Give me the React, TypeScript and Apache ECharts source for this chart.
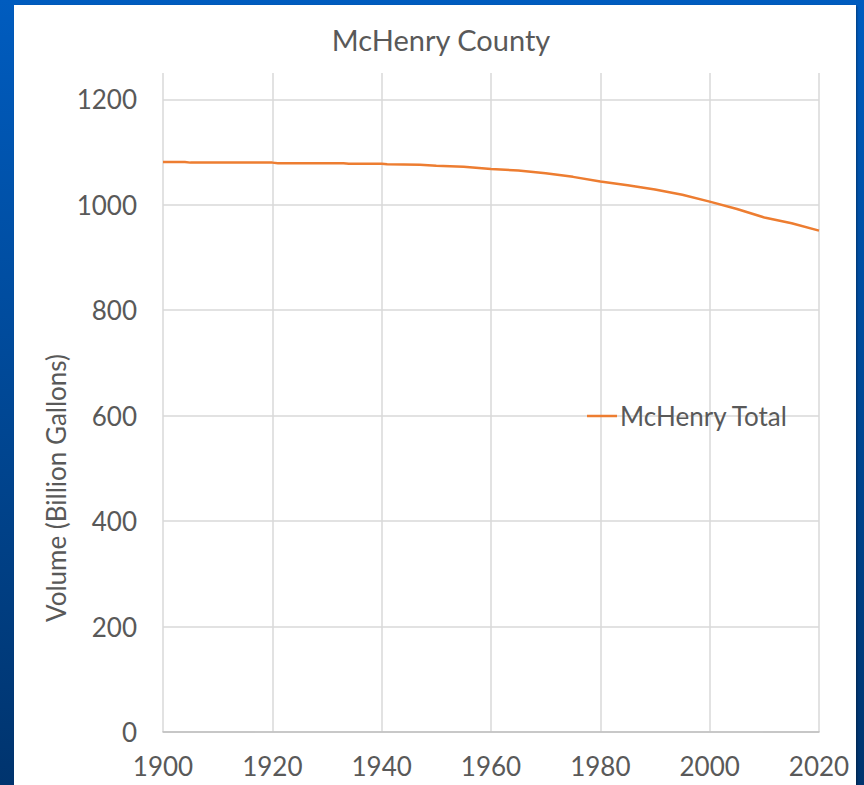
import React, { useEffect, useRef } from "react";
import * as echarts from "echarts";

const years = [1900, 1904, 1905, 1920, 1921, 1933, 1934, 1940, 1941, 1947, 1950, 1955, 1960, 1965, 1970, 1975, 1980, 1985, 1990, 1995, 2000, 2005, 2010, 2015, 2020];
const totals = [1081, 1081, 1080, 1080, 1079, 1079, 1078, 1078, 1077, 1076, 1074, 1072, 1068, 1065, 1060, 1053, 1044, 1037, 1029, 1019, 1006, 992, 976, 965, 951];
const yTicks = [0, 200, 400, 600, 800, 1000, 1200];
const seriesName = "McHenry Total";
const titleText = "McHenry County";
const yName = "Volume (Billion Gallons)";

const FONT = "Lato";
const GREY = "#595959";

export default function App() {
  const ref = useRef<HTMLDivElement>(null);
  useEffect(() => {
    if (!ref.current) return;
    const chart = echarts.init(ref.current, undefined, { renderer: "svg" });
    const gridColors = yTicks.map(() => "#d9d9d9").concat(["rgba(0,0,0,0)"]);
    chart.setOption({
      animation: false,
      backgroundColor: "transparent",
      textStyle: { fontFamily: FONT },
      title: {
        text: titleText,
        left: 436,
        top: 20,
        textAlign: "center",
        textStyle: { fontFamily: FONT, fontSize: 29, fontWeight: "normal", color: GREY },
      },
      legend: {
        left: 582,
        top: 398,
        itemWidth: 30,
        itemHeight: 2.5,
        data: [{ name: seriesName, icon: "rect" }],
        textStyle: { fontFamily: FONT, fontSize: 26, color: GREY, padding: [0, 0, 0, -2] },
      },
      grid: { left: 163, right: 45, top: 73, bottom: 53, containLabel: false },
      xAxis: {
        type: "value",
        min: 1900,
        max: 2020,
        interval: 20,
        axisLine: { show: true, lineStyle: { color: "#bfbfbf", width: 1.5 } },
        axisTick: { show: false },
        splitLine: { show: true, lineStyle: { color: "#d9d9d9", width: 1.5 } },
        axisLabel: { color: GREY, fontSize: 26, fontFamily: FONT, margin: 21, formatter: (v: number) => String(v) },
      },
      yAxis: {
        type: "value",
        min: 0,
        max: 1250,
        interval: 200,
        axisLine: { show: false },
        axisTick: { show: false },
        splitLine: { show: true, lineStyle: { color: gridColors, width: 1.5 } },
        axisLabel: {
          color: GREY,
          fontSize: 26,
          fontFamily: FONT,
          margin: 26,
          formatter: (v: number) => (yTicks.indexOf(v) >= 0 ? String(v) : ""),
        },
      },
      graphic: [
        {
          type: "text",
          x: 56,
          y: 488,
          rotation: Math.PI / 2,
          style: {
            text: yName,
            fill: GREY,
            font: `26px ${FONT}`,
            textAlign: "center",
            textVerticalAlign: "middle",
          },
        },
      ],
      series: [
        {
          name: seriesName,
          type: "line",
          data: years.map((y, i) => [y, totals[i]]),
          showSymbol: false,
          symbol: "none",
          lineStyle: { color: "#ED7D31", width: 2.5 },
          itemStyle: { color: "#ED7D31" },
        },
      ],
    });
    return () => chart.dispose();
  }, []);

  return (
    <div
      style={{
        position: "absolute",
        left: 0,
        top: 0,
        width: 864,
        height: 785,
        background: "linear-gradient(to bottom, #005cbf 0%, #004a9a 45%, #00346e 100%)",
        overflow: "hidden",
      }}
    >
      <div
        style={{
          position: "absolute",
          left: 14,
          top: 5,
          width: 842,
          height: 790,
          background: "#ffffff",
          boxShadow: "1px 1px 2px rgba(0,0,0,0.35)",
        }}
      />
      <div ref={ref} style={{ position: "absolute", left: 0, top: 0, width: 864, height: 785 }} />
    </div>
  );
}
